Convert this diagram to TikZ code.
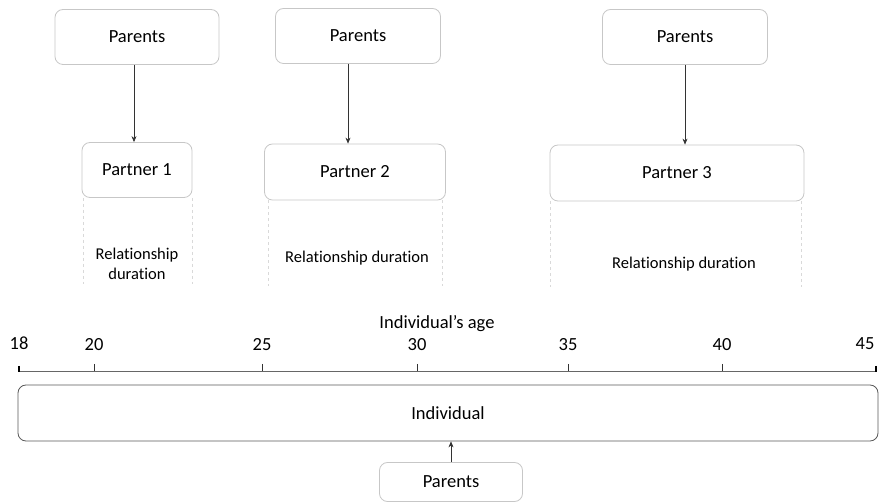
\documentclass[tikz,border=0pt]{standalone}
\usepackage{fontspec}
\setmainfont{Carlito}[Ligatures={NoCommon}]
\usetikzlibrary{arrows.meta}

\begin{document}
\begin{tikzpicture}[x=1pt, y=-1pt, font=\fontsize{18.5}{22}\selectfont,
    box/.style={draw=black!22, rounded corners=8pt, inner sep=0pt, line width=0.8pt},
    dur/.style={draw=black!15, dashed, line width=0.7pt},
    arr/.style={-{Stealth[length=6pt,width=5pt]}, draw=black!80, line width=0.6pt}]
    \useasboundingbox (0,0) rectangle (879,502);

    % parents of the partners
    \node[box, minimum width=164pt, minimum height=55pt] (par1) at (137,37) {Parents};
    \node[box, minimum width=165pt, minimum height=55pt] (par2) at (358,36) {Parents};
    \node[box, minimum width=165pt, minimum height=55pt] (par3) at (685,37) {Parents};

    % partners
    \node[box, minimum width=110pt, minimum height=55pt] (pt1) at (137,170) {Partner 1};
    \node[box, minimum width=181pt, minimum height=56pt] (pt2) at (355,172) {Partner 2};
    \node[box, minimum width=254pt, minimum height=56pt] (pt3) at (677,173) {Partner 3};

    \draw[arr] (par1.south -| 134,0) -- (pt1.north -| 134,0);
    \draw[arr] (par2.south -| 348,0) -- (pt2.north -| 348,0);
    \draw[arr] (par3.south -| 685,0) -- (pt3.north -| 685,0);

    % relationship durations
    \draw[dur] (pt1.south west) ++(2,0) -- ++(0,86);
    \draw[dur] (pt1.south east) -- ++(0,86);
    \draw[dur] (pt2.south west) ++(4,0) -- ++(0,86);
    \draw[dur] (pt2.south east) ++(-4,0) -- ++(0,86);
    \draw[dur] (pt3.south west) ++(1,0) -- ++(0,86);
    \draw[dur] (pt3.south east) ++(-3,0) -- ++(0,86);

    \node[align=center, font=\fontsize{16.5}{20}\selectfont] (d1) at (137,264) {Relationship\\duration};
    \node[font=\fontsize{16.5}{20}\selectfont] (d2) at (357,258) {Relationship duration};
    \node[font=\fontsize{16.5}{20}\selectfont] (d3) at (684,264) {Relationship duration};

    % age axis
    \node (age) at (437,324) {Individual's age};
    \draw[draw=black!60, line width=0.8pt] (19,371) -- (876,371);
    \foreach \x/\a in {94/20, 262/25, 417/30, 568/35, 722/40}
        \draw[draw=black!80, line width=0.5pt] (\x,364) -- (\x,371) node[pos=0, above=10pt] {\a};
    \draw[line width=1.4pt] (19,366) -- (19,372) node[pos=0, above=12pt] {18};
    \draw[line width=1.4pt] (876,366) -- (876,372) node[pos=0, above=12pt, xshift=-11pt] {45};

    % the individual
    \node[box, draw=black!65, minimum width=860pt, minimum height=56pt] (ind) at (448,413) {Individual};
    \node[box, minimum width=143pt, minimum height=39pt] (par0) at (451,482) {Parents};
    \draw[arr] (par0.north) -- (ind.south -| par0.north);
\end{tikzpicture}
\end{document}
